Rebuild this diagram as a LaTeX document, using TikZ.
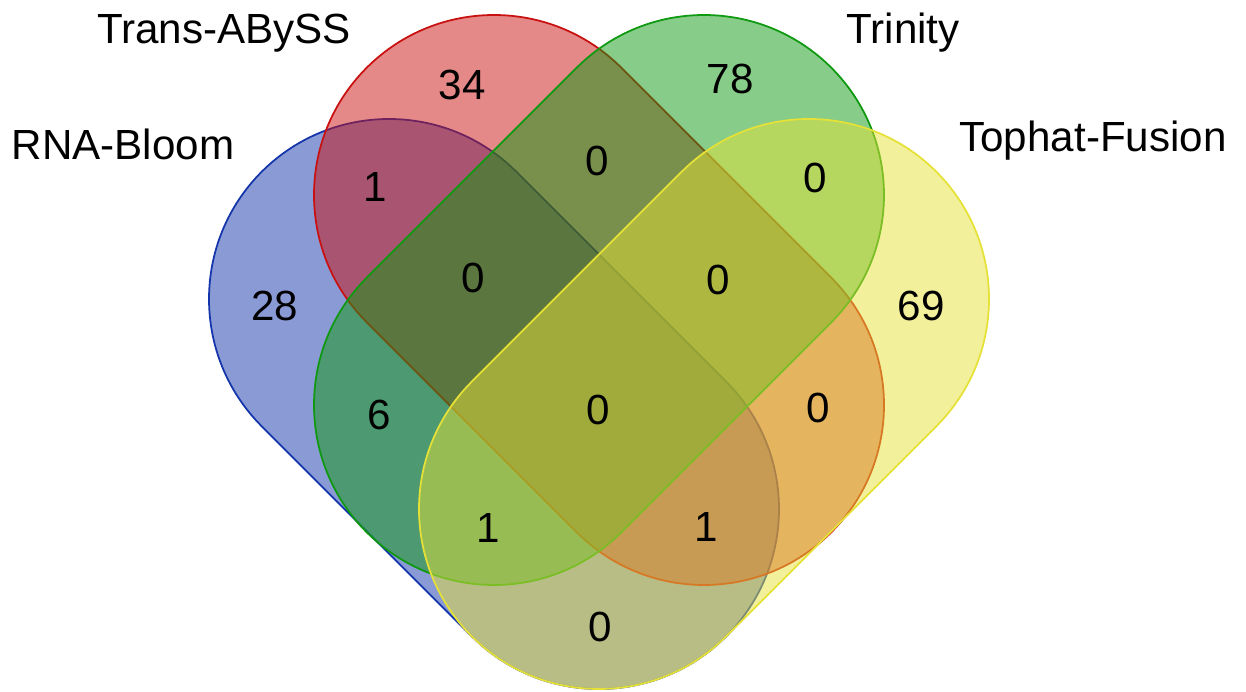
\documentclass[tikz,border=0pt]{standalone}
\usepackage{fontspec}
\setmainfont{Liberation Sans}
\usetikzlibrary{calc}
\definecolor{rnablue}{HTML}{1535AB}
\definecolor{abyssred}{HTML}{C91111}
\definecolor{trinitygreen}{HTML}{0F9911}
\definecolor{tophatyellow}{HTML}{E5E137}

\begin{document}
\begin{tikzpicture}[x=0.02cm, y=-0.02cm, font=\fontsize{24}{28}\selectfont,
    setshape/.style={line width=1pt, fill opacity=.5},
    setname/.style={anchor=base}]
  \useasboundingbox (0,0) rectangle (1246,692);
  % the four sets, blue under red under green under yellow
  \foreach \ax/\ay/\bx/\by/\ang/\col in {
    389/299/599/509/45/rnablue,
    494/195/704/405/45/abyssred,
    704/195/494/405/135/trinitygreen,
    809/299/599/509/135/tophatyellow}{
    \filldraw[setshape, fill=\col, draw=\col]
      ($(\ax,\ay)+(\ang+90:180)$) -- ($(\bx,\by)+(\ang+90:180)$)
      arc[start angle=\ang+90, end angle=\ang-90, radius=180]
      -- ($(\ax,\ay)+(\ang-90:180)$)
      arc[start angle=\ang-90, end angle=\ang-270, radius=180] -- cycle;
  }
  % set names
  \node[setname] (rnabloom) at (123,160) {RNA-Bloom};
  \node[setname] (transabyss) at (224,44) {Trans-ABySS};
  \node[setname] (trinity) at (903,44) {Trinity};
  \node[setname] (tophat) at (1093,152) {Tophat-Fusion};
  % counts per region
  \foreach \x/\y/\n/\name in {
    275/306/28/onlyrna,
    462/85/34/onlyabyss,
    730/79/78/onlytrinity,
    921/306/69/onlytophat,
    375/187/1/rnaabyss,
    597/161/0/abysstrinity,
    815/178/0/trinitytophat,
    473/278/0/rnaabysstrinity,
    718/280/0/abysstrinitytophat,
    379/415/6/rnatrinity,
    598/410/0/allfour,
    818/408/0/abysstophat,
    488/528/1/rnatrinitytophat,
    706/527/1/rnaabysstophat,
    600/627/0/rnatophat}{
    \node (\name) at (\x,\y) {\n};
  }
\end{tikzpicture}
\end{document}
